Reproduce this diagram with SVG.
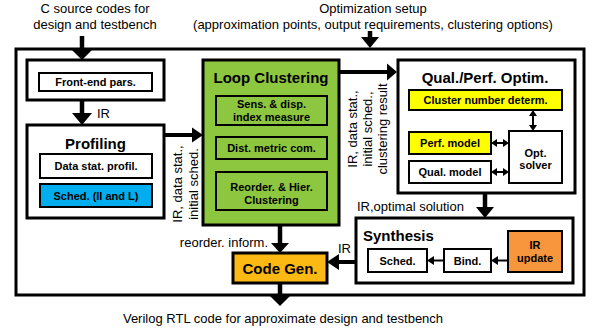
<svg xmlns="http://www.w3.org/2000/svg" width="595" height="331" viewBox="0 0 595 331">
<style>
text{font-family:"Liberation Sans",Arial,sans-serif;fill:#000}
.lbl{font-size:13px}
.t{font-size:15px;font-weight:bold}
.b{font-size:11px;font-weight:bold}
.thick{fill:none;stroke:#000;stroke-width:3}
.mid{stroke:#000;stroke-width:2}
.ln{stroke:#000;fill:none}
.hd{fill:#000;stroke:none}
</style>
<rect width="595" height="331" fill="#fff"/>
<!-- outer frame -->
<rect id="frame" x="16" y="49" width="568" height="246" class="thick"/>

<g id="frontend">
<rect x="27" y="60" width="137" height="40" class="thick" fill="#fff"/>
<rect x="39" y="73" width="113" height="18" fill="#fff" class="mid"/>
<text x="95.5" y="86" class="b" text-anchor="middle">Front-end pars.</text>
</g>

<g id="profiling">
<rect x="27" y="125" width="137" height="93" class="thick" fill="#fff"/>
<text x="95.5" y="149" class="t" text-anchor="middle">Profiling</text>
<rect x="40" y="154" width="112" height="24" fill="#fff" class="mid"/>
<text x="96" y="170" class="b" text-anchor="middle">Data stat. profil.</text>
<rect x="40" y="184" width="112" height="23" fill="#00AEEF" class="mid"/>
<text x="96" y="199.5" class="b" text-anchor="middle">Sched. (II and L)</text>
</g>

<g id="loopclustering">
<rect x="203" y="60" width="136" height="165" fill="#8DC63F" stroke="#000" stroke-width="3"/>
<text x="271" y="82.5" class="t" text-anchor="middle">Loop Clustering</text>
<rect x="216" y="96" width="111" height="29" fill="#8DC63F" class="mid"/>
<text x="271.5" y="108" class="b" text-anchor="middle">Sens. &amp; disp.</text>
<text x="271.5" y="121" class="b" text-anchor="middle">index measure</text>
<rect x="216" y="137" width="111" height="22" fill="#8DC63F" class="mid"/>
<text x="271.5" y="152" class="b" text-anchor="middle">Dist. metric com.</text>
<rect x="216" y="172" width="111" height="38" fill="#8DC63F" class="mid"/>
<text x="271.5" y="191" class="b" text-anchor="middle">Reorder. &amp; Hier.</text>
<text x="271.5" y="204" class="b" text-anchor="middle">Clustering</text>
</g>

<g id="optim">
<rect x="398" y="60" width="177" height="133" class="thick" fill="#fff"/>
<text x="485" y="83" class="t" text-anchor="middle">Qual./Perf. Optim.</text>
<rect x="409" y="90" width="153" height="20" fill="#FFFF00" class="mid"/>
<text x="485.5" y="104" class="b" text-anchor="middle">Cluster number determ.</text>
<rect x="409" y="132" width="82" height="22" fill="#FFFF00" class="mid"/>
<text x="450" y="147" class="b" text-anchor="middle">Perf. model</text>
<rect x="409" y="161" width="82" height="22" fill="#fff" class="mid"/>
<text x="450" y="176" class="b" text-anchor="middle">Qual. model</text>
<rect x="509" y="131" width="53" height="52" fill="#fff" class="mid"/>
<text x="535.5" y="157" class="b" text-anchor="middle">Opt.</text>
<text x="535.5" y="169" class="b" text-anchor="middle">solver</text>
</g>

<g id="synthesis">
<rect x="356" y="218" width="217" height="65" class="thick" fill="#fff"/>
<text x="363" y="241" class="t">Synthesis</text>
<rect x="368" y="249" width="59" height="23" fill="#fff" class="mid"/>
<text x="397.5" y="264.5" class="b" text-anchor="middle">Sched.</text>
<rect x="444" y="249" width="47" height="23" fill="#fff" class="mid"/>
<text x="467.5" y="264.5" class="b" text-anchor="middle">Bind.</text>
<rect x="508" y="231" width="54" height="41" fill="#F7963D" class="mid"/>
<text x="535" y="249" class="b" text-anchor="middle">IR</text>
<text x="535" y="261.5" class="b" text-anchor="middle">update</text>
</g>

<g id="codegen">
<rect x="233" y="253" width="94" height="30" fill="#FDB913" stroke="#000" stroke-width="3"/>
<text x="280" y="273.5" class="t" text-anchor="middle">Code Gen.</text>
</g>

<g id="connectors">
<!-- C source input -->
<line x1="82" y1="36" x2="82" y2="51" class="ln" stroke-width="4.5"/>
<polygon points="72,50 92,50 82,60" class="hd"/>
<!-- optimization setup input -->
<line x1="370" y1="31" x2="370" y2="38" class="ln" stroke-width="4.5"/>
<polygon points="361,37 379,37 370,48" class="hd"/>
<!-- IR front-end -> profiling -->
<line x1="82" y1="100" x2="82" y2="114" class="ln" stroke-width="4.5"/>
<polygon points="72,113 92,113 82,125" class="hd"/>
<!-- profiling -> loop clustering -->
<line x1="164" y1="135" x2="193" y2="135" class="ln" stroke-width="4"/>
<polygon points="192,127.5 192,142.5 203,135" class="hd"/>
<!-- loop -> optim -->
<line x1="339" y1="72" x2="388" y2="72" class="ln" stroke-width="4"/>
<polygon points="387,63.5 387,80.5 397,72" class="hd"/>
<!-- optim -> synthesis -->
<line x1="485" y1="193" x2="485" y2="208" class="ln" stroke-width="4.5"/>
<polygon points="476,207 494,207 485,218" class="hd"/>
<!-- loop -> code gen -->
<line x1="280" y1="225" x2="280" y2="244" class="ln" stroke-width="4.5"/>
<polygon points="271,243 289,243 280,253" class="hd"/>
<!-- synthesis -> code gen -->
<line x1="356" y1="262" x2="338" y2="262" class="ln" stroke-width="4"/>
<polygon points="339,254 339,270 327,262" class="hd"/>
<!-- code gen -> output -->
<line x1="280" y1="283" x2="280" y2="296" class="ln" stroke-width="4.5"/>
<polygon points="269,295 291,295 280,306" class="hd"/>
<!-- double arrows in optim -->
<line x1="533" y1="114" x2="533" y2="127" class="ln" stroke-width="2"/>
<polygon points="529,116 537,116 533,110" class="hd"/>
<polygon points="529,125 537,125 533,131" class="hd"/>
<line x1="495" y1="143" x2="505" y2="143" class="ln" stroke-width="2"/>
<polygon points="497,139 497,147 491,143" class="hd"/>
<polygon points="503,139 503,147 509,143" class="hd"/>
<line x1="495" y1="172" x2="505" y2="172" class="ln" stroke-width="2"/>
<polygon points="497,168 497,176 491,172" class="hd"/>
<polygon points="503,168 503,176 509,172" class="hd"/>
<!-- synthesis internal -->
<line x1="508" y1="260.5" x2="496" y2="260.5" class="ln" stroke-width="2"/>
<polygon points="498,256 498,265 491,260.5" class="hd"/>
<line x1="444" y1="260.5" x2="432" y2="260.5" class="ln" stroke-width="2"/>
<polygon points="434,256 434,265 427,260.5" class="hd"/>
</g>

<g id="labels">
<text x="95" y="13" class="lbl" text-anchor="middle">C source codes for</text>
<text x="95" y="29" class="lbl" text-anchor="middle">design and testbench</text>
<text x="373" y="13" class="lbl" text-anchor="middle">Optimization setup</text>
<text x="373" y="29" class="lbl" text-anchor="middle">(approximation points, output requirements, clustering options)</text>
<text x="97" y="118" class="lbl">IR</text>
<text transform="translate(182,184) rotate(-90)" class="lbl" text-anchor="middle">IR, data stat.,</text>
<text transform="translate(198,184) rotate(-90)" class="lbl" text-anchor="middle">initial sched.</text>
<text transform="translate(357,129) rotate(-90)" class="lbl" text-anchor="middle">IR, data stat.,</text>
<text transform="translate(372,129) rotate(-90)" class="lbl" text-anchor="middle">initial sched.,</text>
<text transform="translate(387,129) rotate(-90)" class="lbl" text-anchor="middle">clustering result</text>
<text x="357" y="211" class="lbl">IR,optimal solution</text>
<text x="268" y="247" class="lbl" text-anchor="end">reorder. inform.</text>
<text x="338" y="253" class="lbl">IR</text>
<text x="283" y="323" class="lbl" text-anchor="middle">Verilog RTL code for approximate design and testbench</text>
</g>
</svg>
